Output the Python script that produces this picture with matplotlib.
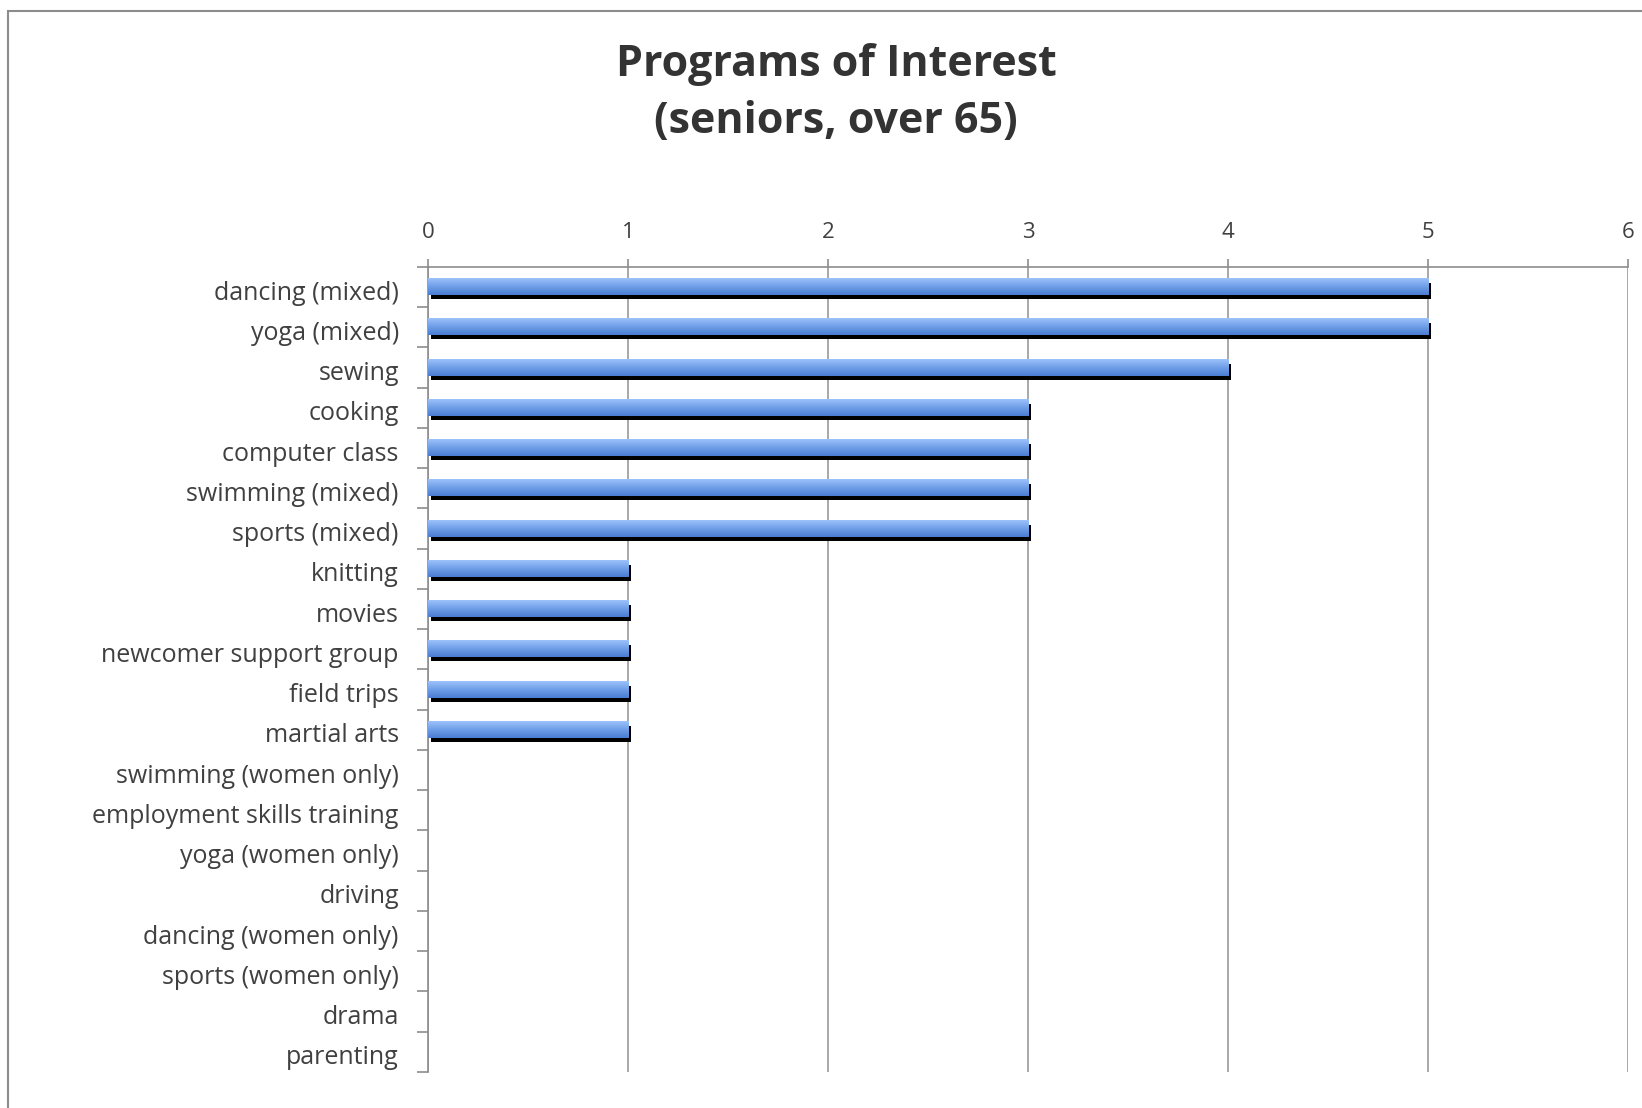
import matplotlib.pyplot as plt
import matplotlib.transforms as mtransforms
from matplotlib.colors import LinearSegmentedColormap
from matplotlib.patches import Rectangle
import numpy as np

programs = ["dancing (mixed)", "yoga (mixed)", "sewing", "cooking", "computer class",
            "swimming (mixed)", "sports (mixed)", "knitting", "movies",
            "newcomer support group", "field trips", "martial arts",
            "swimming (women only)", "employment skills training", "yoga (women only)",
            "driving", "dancing (women only)", "sports (women only)", "drama", "parenting"]
counts = [5, 5, 4, 3, 3, 3, 3, 1, 1, 1, 1, 1, 0, 0, 0, 0, 0, 0, 0, 0]
x_ticks = [0, 1, 2, 3, 4, 5, 6]


def main():
    plt.rcParams['font.family'] = ['Open Sans', 'DejaVu Sans']
    fig = plt.figure(figsize=(16.42, 11.08), dpi=100)
    ax = fig.add_axes([428 / 1642, 1 - 1072 / 1108, 1200 / 1642, 805 / 1108])

    n = len(programs)
    y = np.arange(n)
    h = 0.4

    # black drop shadow, shifted a few pixels right and down
    shadow = ax.barh(y, counts, height=h, color="black", zorder=2)
    offset = mtransforms.ScaledTranslation(3 / 100, -4 / 100, fig.dpi_scale_trans)
    for p in shadow:
        p.set_transform(ax.transData + offset)

    # gradient bars
    cmap = LinearSegmentedColormap.from_list("blu", ["#9dc2fb", "#6f9ee8", "#4a7dd3"])
    grad = np.linspace(0, 1, 64).reshape(-1, 1)
    for yi, v in zip(y, counts):
        if v > 0:
            ax.imshow(grad, cmap=cmap, aspect="auto", zorder=3,
                      extent=(0, v, yi + h / 2, yi - h / 2), interpolation="bilinear")

    ax.set_xlim(0, 6)
    ax.set_ylim(n - 0.5, -0.5)

    # x axis on top
    ax.xaxis.tick_top()
    ax.set_xticks(x_ticks)
    ax.set_xticklabels([str(t) for t in x_ticks], fontsize=16, color="#404040")
    ax.tick_params(axis="x", direction="out", length=6, width=1.2, color="#8c8c8c", pad=11)
    ax.grid(axis="x", color="#999999", linewidth=1.2, zorder=0)
    ax.set_axisbelow(True)

    # category ticks at the band boundaries, labels at centers
    ax.set_yticks(np.arange(n + 1) - 0.5, minor=False)
    ax.set_yticklabels([])
    ax.set_yticks(y, minor=True)
    ax.set_yticklabels(programs, minor=True, fontsize=18, color="#404040")
    ax.tick_params(axis="y", which="major", direction="out", length=8, width=1.2, color="#8c8c8c")
    ax.tick_params(axis="y", which="minor", length=0, pad=21)
    # labels sit a touch below the band centre in the original
    down = mtransforms.ScaledTranslation(0, -3 / 100, fig.dpi_scale_trans)
    for lbl in ax.get_yticklabels(minor=True):
        lbl.set_transform(lbl.get_transform() + down)

    for s in ["right", "bottom"]:
        ax.spines[s].set_visible(False)
    for s in ["left", "top"]:
        ax.spines[s].set_color("#8c8c8c")
        ax.spines[s].set_linewidth(1.2)

    fig.text(836 / 1642, 1 - 93 / 1108, "Programs of Interest\n(seniors, over 65)",
             ha="center", va="center", fontsize=31, fontweight="bold", color="#333333",
             linespacing=1.45)

    # chart border
    fig.patches.append(Rectangle((8 / 1642, -0.1), 1.2, 1.1 - 11 / 1108, fill=False,
                                 edgecolor="#8c8c8c", linewidth=1.5, transform=fig.transFigure))

    fig.savefig("out.png", dpi=100)


if __name__ == "__main__":
    main()
